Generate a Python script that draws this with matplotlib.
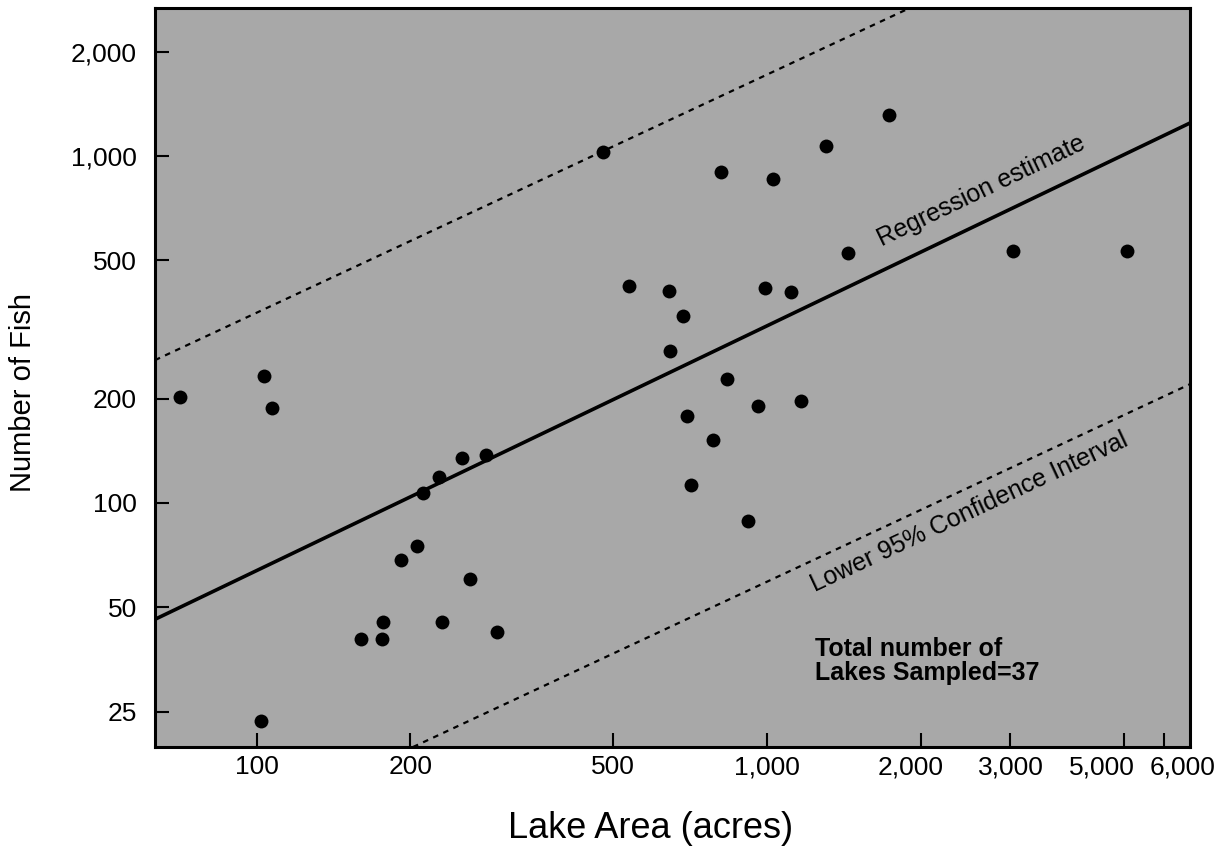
import math
import matplotlib
matplotlib.use('Agg')
import matplotlib.pyplot as plt
import matplotlib.transforms as mtransforms
from matplotlib.ticker import NullLocator

plt.rcParams['font.family'] = ['Liberation Sans', 'DejaVu Sans']

# lake area (acres) and number of fish
lake_area = [70.8, 103.5, 107.2, 252, 281.5, 228, 212, 206, 191.6, 262, 177, 160, 176.3, 230.5, 295.4, 102,
             1736, 1303, 478, 811, 1026, 1443, 537, 644, 991, 1114, 684, 646, 836, 959, 1166, 697, 783, 709, 917,
             3038, 5066]
num_fish = [201.7, 232.3, 188.2, 134.5, 137.5, 119.1, 107.1, 75.2, 68.5, 60.4, 45.3, 40.6, 40.6, 45.5, 42.6, 23.5,
            1313, 1071, 1025, 897, 857, 524, 423, 408, 417, 406, 346, 274, 227, 190, 197, 178.5, 152, 113, 88.8,
            532, 532]

# end points of the fitted line and the 95% band, as drawn in the figure
reg_x = [63.2, 6745]
reg_y = [46.2, 1245]
upper_x = [63.2, 1905]
upper_y = [258, 2671]
lower_x = [202.5, 6745]
lower_y = [19.8, 220]

xticks = [100, 200, 500, 1000, 2000, 3000, 5000, 6000]
xtick_labels = ['100', '200', '500', '1,000', '2,000', '3,000', '5,000', '6,000']
yticks = [25, 50, 100, 200, 500, 1000, 2000]
ytick_labels = ['25', '50', '100', '200', '500', '1,000', '2,000']

fig = plt.figure(figsize=(12.3, 8.48), dpi=100)
ax = fig.add_axes([0.126, 0.1191, 0.8415, 0.8715])
ax.set_facecolor('#a8a8a8')
ax.set_xscale('log')
ax.set_yscale('log')
ax.set_xlim(63.2, 6745)
ax.set_ylim(19.8, 2671)

ax.plot(reg_x, reg_y, color='black', lw=2.6, zorder=2)
ax.plot(upper_x, upper_y, color='black', lw=1.6, linestyle=(0, (2.5, 2.5)), zorder=2)
ax.plot(lower_x, lower_y, color='black', lw=1.6, linestyle=(0, (2.5, 2.5)), zorder=2)
ax.scatter(lake_area, num_fish, s=100, color='black', linewidths=0, zorder=3)

ax.set_xticks(xticks)
ax.set_xticklabels(xtick_labels)
ax.set_yticks(yticks)
ax.set_yticklabels(ytick_labels)
ax.xaxis.set_minor_locator(NullLocator())
ax.yaxis.set_minor_locator(NullLocator())
ax.tick_params(direction='in', length=10, width=1.5, labelsize=19)
ax.tick_params(axis='x', pad=6)
ax.tick_params(axis='y', pad=13)
for sp in ax.spines.values():
    sp.set_linewidth(2.2)

# the crowded labels on the right are nudged apart like in the original
label_shift = [0, 0, 0, 0, -10, 0, -22, 18]
for lbl, dx in zip(ax.get_xticklabels(), label_shift):
    lbl.set_transform(lbl.get_transform() +
                      mtransforms.ScaledTranslation(dx / 100, 0, fig.dpi_scale_trans))


def line_angle(xs, ys):
    p = ax.transData.transform(list(zip(xs, ys)))
    return math.degrees(math.atan2(p[1][1] - p[0][1], p[1][0] - p[0][0]))


ax.text(1680, 550, 'Regression estimate', rotation=line_angle(reg_x, reg_y),
        rotation_mode='anchor', ha='left', va='baseline', fontsize=18)
ax.text(1240, 55.4, 'Lower 95% Confidence Interval', rotation=line_angle(lower_x, lower_y),
        rotation_mode='anchor', ha='left', va='baseline', fontsize=18)
ax.text(1242, 41, 'Total number of\nLakes Sampled=37', fontsize=18, fontweight='bold',
        ha='left', va='top', linespacing=1.0)

fig.text(651 / 1230, 1 - 828 / 848, 'Lake Area (acres)', fontsize=26, ha='center', va='center')
fig.text(23 / 1230, 1 - 392 / 848, 'Number of Fish', fontsize=21, rotation=90,
         ha='center', va='center')

fig.savefig('out.png', dpi=100)
